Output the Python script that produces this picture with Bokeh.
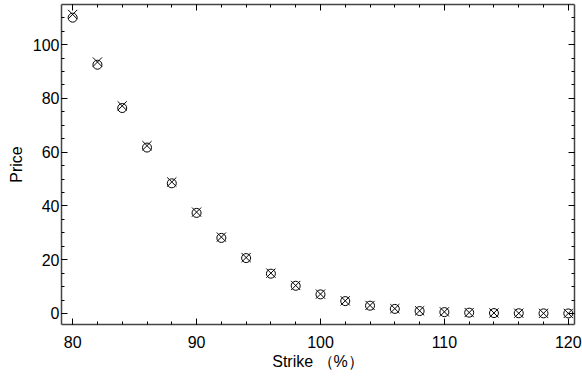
from bokeh.plotting import figure
from bokeh.models import LinearAxis, SingleIntervalTicker, Range1d, CustomJSTickFormatter
from bokeh.embed import file_html
from bokeh.resources import INLINE

strike = [80, 82, 84, 86, 88, 90, 92, 94, 96, 98, 100, 102, 104, 106, 108, 110, 112, 114, 116, 118, 120]
price_circle = [110.0, 92.5, 76.4, 61.7, 48.4, 37.4, 28.1, 20.6, 14.8, 10.3, 7.1, 4.6, 2.9, 1.7, 0.9, 0.5, 0.3, 0.15, 0.08, 0.04, 0.02]
price_cross = [111.2, 93.5, 77.2, 62.4, 48.9, 37.7, 28.4, 20.8, 15.0, 10.4, 7.2, 4.7, 3.0, 1.8, 1.0, 0.6, 0.35, 0.2, 0.1, 0.05, 0.03]

FONT = "Liberation Sans"

p = figure(width=582, height=376, output_backend="svg", toolbar_location=None,
           x_range=Range1d(79.1, 120.5), y_range=Range1d(-4.1, 114.9),
           x_axis_type=None, y_axis_type=None,
           min_border_left=61, min_border_right=8, min_border_top=4, min_border_bottom=52)
p.xgrid.visible = False
p.ygrid.visible = False
p.outline_line_color = None

p.scatter(strike, price_circle, marker="circle", size=9, fill_color=None, line_color="black", line_width=1)
p.scatter(strike, price_cross, marker="x", size=13, line_color="black", line_width=1)

bottom = LinearAxis(axis_label="Strike （%）")
left = LinearAxis(axis_label="Price")
top = LinearAxis()
right = LinearAxis()
p.add_layout(bottom, "below")
p.add_layout(left, "left")
p.add_layout(top, "above")
p.add_layout(right, "right")

for ax in [bottom, top]:
    ax.ticker = SingleIntervalTicker(interval=10, num_minor_ticks=5)
for ax in [left, right]:
    ax.ticker = SingleIntervalTicker(interval=20, num_minor_ticks=4)

for ax in [bottom, left, top, right]:
    ax.major_tick_in = 6
    ax.major_tick_out = 0
    ax.minor_tick_in = 3
    ax.minor_tick_out = 0
    ax.axis_line_color = "#444444"
    ax.axis_line_width = 1.5
    ax.major_tick_line_color = "black"
    ax.minor_tick_line_color = "black"
    ax.major_label_text_font = FONT
    ax.major_label_text_font_size = "16px"
    ax.major_label_text_color = "black"
    ax.axis_label_text_font = FONT
    ax.axis_label_text_font_size = "16px"
    ax.axis_label_text_font_style = "normal"
    ax.axis_label_text_color = "black"

for ax in [top, right]:
    ax.formatter = CustomJSTickFormatter(code="return ''")
    ax.major_label_text_font_size = "1px"
    ax.major_label_standoff = 0

bottom.major_label_standoff = 11
bottom.axis_label_standoff = 2
left.major_label_standoff = 2
left.axis_label_standoff = 5

open("out.html", "w").write(file_html(p, INLINE))
